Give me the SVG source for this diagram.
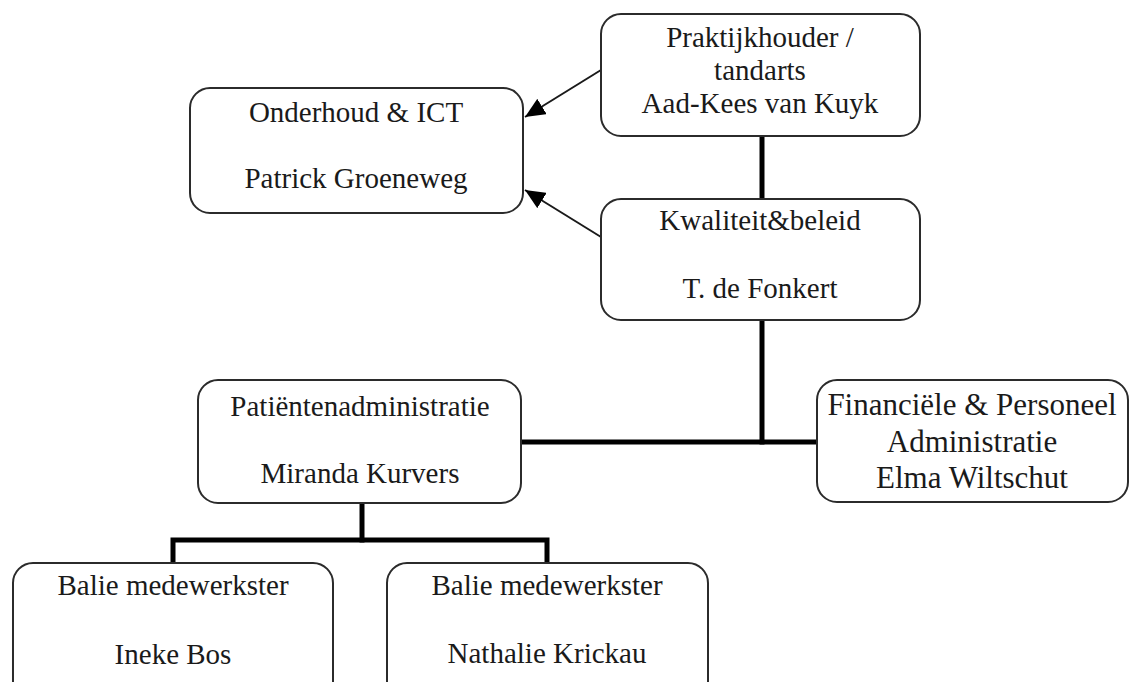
<svg xmlns="http://www.w3.org/2000/svg" width="1130" height="682" viewBox="0 0 1130 682">
  <style>
    .box { fill: #ffffff; stroke: #2b2b2b; stroke-width: 2; }
    .lbl { font-family: "Liberation Serif", "Times New Roman", serif; font-size: 29px; fill: #1a1a1a; text-anchor: middle; }
    .big { font-size: 31px; }
    .conn { stroke: #000000; stroke-width: 5; fill: none; stroke-linejoin: miter; stroke-linecap: square; }
    .arrow { stroke: #1a1a1a; stroke-width: 2; fill: none; }
  </style>
  <defs>
    <marker id="ah" markerUnits="userSpaceOnUse" markerWidth="22" markerHeight="18" refX="20" refY="9" orient="auto">
      <path d="M0,0 L20,9 L0,18 Z" fill="#000000"/>
    </marker>
  </defs>
  <rect width="1130" height="682" fill="#ffffff"/>

  <g id="connectors">
    <line class="conn" x1="762" y1="136" x2="762" y2="198"/>
    <polyline class="conn" points="762,320 762,442"/>
    <line class="conn" x1="521" y1="442" x2="817" y2="442"/>
    <polyline class="conn" points="362,503 362,540"/>
    <polyline class="conn" points="173,563 173,540 547,540 547,563"/>
    <line class="arrow" x1="601" y1="70" x2="525" y2="117" marker-end="url(#ah)"/>
    <line class="arrow" x1="601" y1="237" x2="525" y2="190" marker-end="url(#ah)"/>
  </g>

  <g id="node-praktijkhouder">
    <rect class="box" x="601" y="14" width="319" height="122" rx="20" ry="20"/>
    <text class="lbl" x="760" y="47">Praktijkhouder /</text>
    <text class="lbl" x="760" y="80">tandarts</text>
    <text class="lbl" x="760" y="113">Aad-Kees van Kuyk</text>
  </g>

  <g id="node-onderhoud">
    <rect class="box" x="190" y="88" width="333" height="125" rx="20" ry="20"/>
    <text class="lbl" x="356" y="122">Onderhoud &amp; ICT</text>
    <text class="lbl" x="356" y="188">Patrick Groeneweg</text>
  </g>

  <g id="node-kwaliteit">
    <rect class="box" x="601" y="199" width="319" height="121" rx="20" ry="20"/>
    <text class="lbl" x="760" y="230">Kwaliteit&amp;beleid</text>
    <text class="lbl" x="760" y="298">T. de Fonkert</text>
  </g>

  <g id="node-patienten">
    <rect class="box" x="198" y="380" width="323" height="123" rx="20" ry="20"/>
    <text class="lbl" x="360" y="416">Patiëntenadministratie</text>
    <text class="lbl" x="360" y="483">Miranda Kurvers</text>
  </g>

  <g id="node-financieel">
    <rect class="box" x="817" y="380" width="311" height="122" rx="20" ry="20"/>
    <text class="lbl big" x="972" y="415">Financiële &amp; Personeel</text>
    <text class="lbl big" x="972" y="452">Administratie</text>
    <text class="lbl big" x="972" y="488">Elma Wiltschut</text>
  </g>

  <g id="node-balie-ineke">
    <rect class="box" x="13" y="563" width="320" height="140" rx="20" ry="20"/>
    <text class="lbl" x="173" y="595">Balie medewerkster</text>
    <text class="lbl" x="173" y="664">Ineke Bos</text>
  </g>

  <g id="node-balie-nathalie">
    <rect class="box" x="387" y="563" width="321" height="140" rx="20" ry="20"/>
    <text class="lbl" x="547" y="595">Balie medewerkster</text>
    <text class="lbl" x="547" y="663">Nathalie Krickau</text>
  </g>
</svg>
